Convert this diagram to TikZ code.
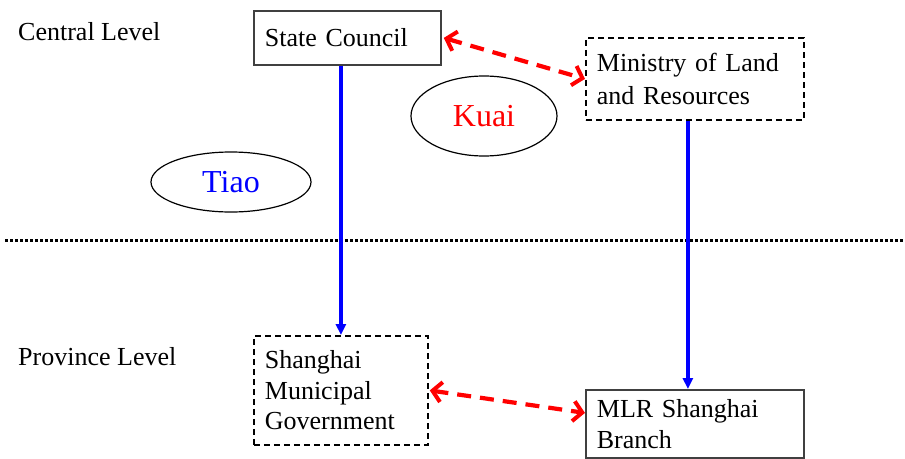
\documentclass[tikz,border=0pt]{standalone}
\usepackage{fontspec}
\setmainfont{Liberation Serif}
\usetikzlibrary{shapes.geometric,arrows.meta}
\begin{document}
\begin{tikzpicture}[x=1pt,y=-1pt,
  every node/.style={font=\fontsize{26}{30.5}\selectfont},
  boxsolid/.style={draw=black!75,line width=1.8pt,anchor=north west,align=left,inner xsep=11pt,inner ysep=0pt},
  boxdash/.style={boxsolid,draw=black,dash pattern=on 6pt off 4pt},
  lvl/.style={anchor=west,inner sep=0pt},
  oval/.style={draw,ellipse,line width=1.2pt,inner sep=0pt,font=\fontsize{32}{36}\selectfont},
  blueline/.style={draw=blue,line width=4.2pt,-{Triangle[length=11pt,width=10pt]}},
  redline/.style={draw=red,line width=4.2pt,dash pattern=on 14pt off 9pt,
     {Straight Barb[length=9pt,width=20pt,line width=4pt]}-{Straight Barb[length=9pt,width=20pt,line width=4pt]}}
]
\useasboundingbox (0,0) rectangle (905,458);
\node[lvl] (central) at (18,32) {Central Level};
\node[lvl] (province) at (18,357) {Province Level};
\node[boxsolid,minimum width=187pt,minimum height=54pt,text width=165pt] (sc) at (253,10) {State Council};
\node[boxdash,minimum width=218pt,minimum height=82pt,text width=196pt] (min) at (585,37) {\raisebox{3pt}{Ministry of Land}\\and Resources};
\node[boxdash,minimum width=174pt,minimum height=109pt,text width=152pt] (sh) at (253,335) {Shanghai\\Municipal\\Government};
\node[boxsolid,minimum width=218pt,minimum height=68pt,text width=196pt] (mlr) at (585,389) {MLR Shanghai\\Branch};
\node[oval,minimum width=160pt,minimum height=60pt,text=blue] (tiao) at (231,182) {Tiao};
\node[oval,minimum width=146pt,minimum height=80pt,text=red] (kuai) at (484,116) {Kuai};
\coordinate (dl) at (5,240);
\coordinate (dr) at (905,240);
\draw[line width=3pt,dash pattern=on 3pt off 2pt] (dl) -- (dr);
\draw[blueline] (sc.south -| sh.north) -- (sh.north);
\draw[blueline] ([xshift=-7pt]min.south) -- ([xshift=-7pt]mlr.north);
\draw[redline] ([xshift=2pt]sc.east) -- (min.west);
\draw[redline] ([xshift=1pt]sh.east) -- ([yshift=11pt]mlr.west);
\end{tikzpicture}
\end{document}
